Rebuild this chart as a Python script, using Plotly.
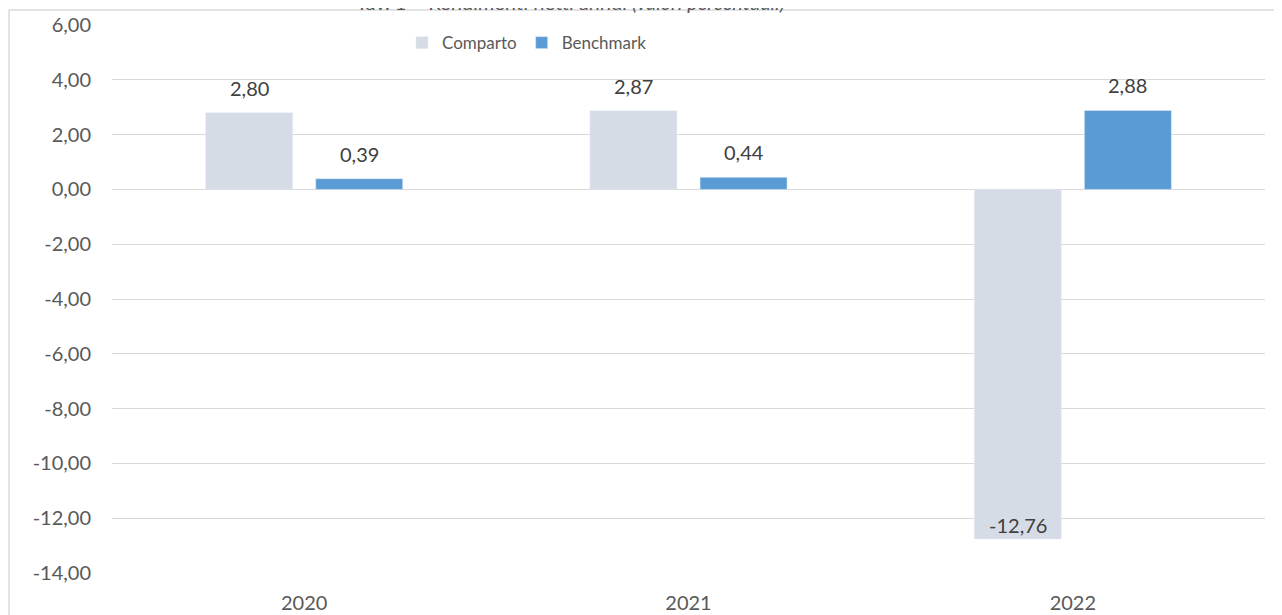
import plotly.graph_objects as go

years = ["2020", "2021", "2022"]
comparto = [2.80, 2.87, -12.76]
benchmark = [0.39, 0.44, 2.88]
tick_vals = [6, 4, 2, 0, -2, -4, -6, -8, -10, -12, -14]
tick_text = ["6,00", "4,00", "2,00", "0,00", "-2,00", "-4,00", "-6,00",
             "-8,00", "-10,00", "-12,00", "-14,00"]

FONT = "Lato, 'Open Sans', sans-serif"
GREY_TXT = "#595959"
LABEL_TXT = "#404040"


def fmt(v):
    # italian decimal comma, plain hyphen for negatives
    return f"{v:.2f}".replace(".", ",")


fig = go.Figure()
fig.add_trace(go.Bar(x=years, y=comparto, name="Comparto",
                     marker=dict(color="#D6DCE5")))
fig.add_trace(go.Bar(x=years, y=benchmark, name="Benchmark",
                     marker=dict(color="#5B9BD5")))

# data labels like excel: above the bar, inside the end for negatives
annotations = []
for series, shift in ((comparto, -55), (benchmark, 55)):
    for i, v in enumerate(series):
        annotations.append(dict(
            x=i, y=v, xref="x", yref="y", text=fmt(v), showarrow=False,
            xshift=shift, yshift=25 if v >= 0 else 14, yanchor="middle",
            font=dict(family=FONT, size=20, color=LABEL_TXT)))

annotations.append(dict(
    text="Tav. 1 – Rendimenti netti annui <i>(valori percentuali)</i>",
    xref="paper", yref="paper", x=0.398, y=1.0164, xanchor="center", yanchor="bottom",
    showarrow=False, font=dict(family=FONT, size=20, color=GREY_TXT)))

# page body has an 8px margin, so the figure is a bit smaller than the window
fig.update_layout(
    width=1274, height=607,
    margin=dict(l=104, r=17, t=17, b=42),
    paper_bgcolor="white", plot_bgcolor="white",
    barmode="group", bargap=0.427, bargroupgap=0.21,
    font=dict(family=FONT, size=20, color=GREY_TXT),
    showlegend=True,
    legend=dict(orientation="h", x=0.2515, y=0.967, xanchor="left", yanchor="middle",
                font=dict(family=FONT, size=17, color=GREY_TXT),
                itemwidth=30, bgcolor="rgba(0,0,0,0)"),
    xaxis=dict(type="category", range=[-0.5, 2.5], showgrid=False, showline=False,
               ticks="", ticklabelstandoff=16, automargin=False,
               tickfont=dict(family=FONT, size=20, color=GREY_TXT)),
    yaxis=dict(range=[-14, 6], tickvals=tick_vals, ticktext=tick_text,
               showgrid=True, gridcolor="#D9D9D9", gridwidth=1,
               zeroline=True, zerolinecolor="#D9D9D9", zerolinewidth=1,
               ticks="", ticklabelstandoff=20, automargin=False,
               tickfont=dict(family=FONT, size=20, color=GREY_TXT)),
    annotations=annotations,
    shapes=[
        dict(type="line", xref="paper", yref="paper", x0=-0.0893, x1=1.05, y0=1.0274, y1=1.0274,
             line=dict(color="#D9D9D9", width=1.5)),
        dict(type="line", xref="paper", yref="paper", x0=-0.0893, x1=-0.0893, y0=1.0274, y1=-0.2,
             line=dict(color="#D9D9D9", width=1.5)),
    ],
)

fig.write_html("out.html")
